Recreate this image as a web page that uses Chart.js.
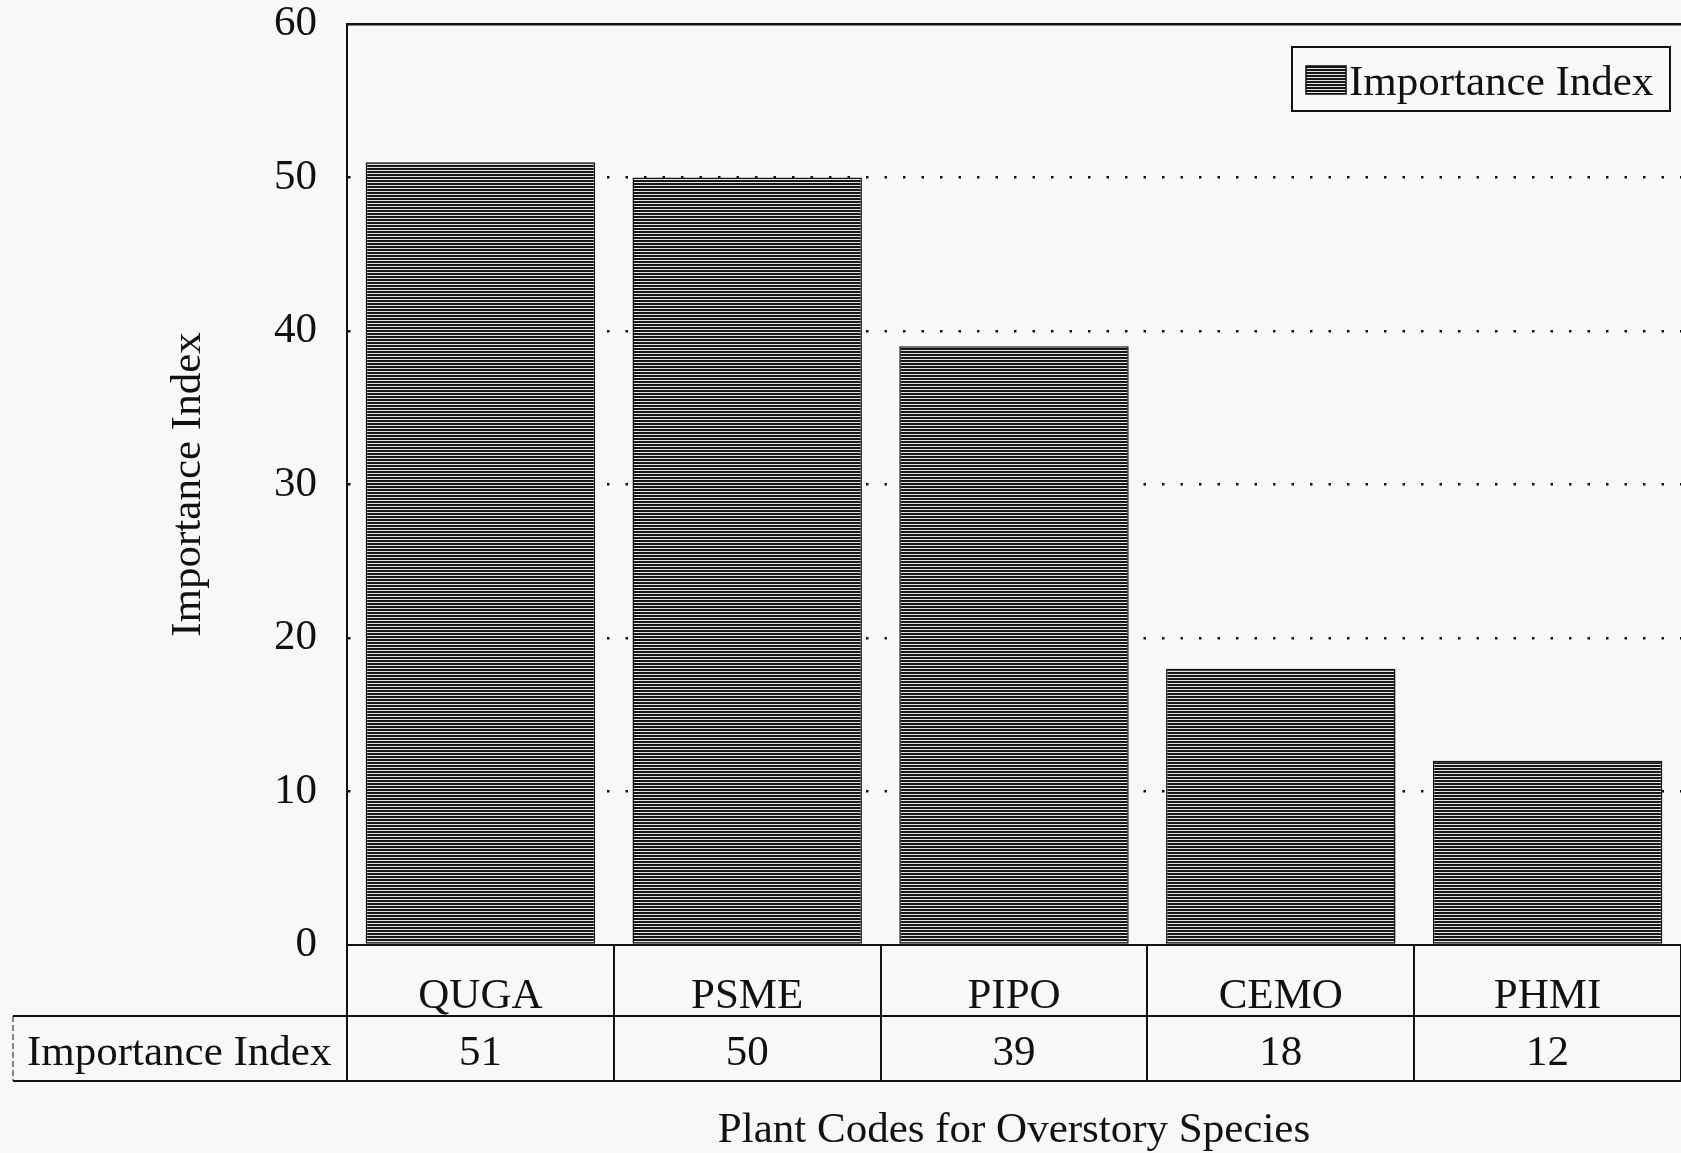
<!DOCTYPE html>
<html>
<head>
<meta charset="utf-8">
<script src="https://cdn.jsdelivr.net/npm/chart.js@4.4.1/dist/chart.umd.min.js"></script>
<style>
  html, body { margin: 0; padding: 0; background: #f8f8f8; }
</style>
</head>
<body>
<canvas id="importanceChart" width="1681" height="1153"></canvas>
<script>
// data
var speciesCodes = ["QUGA", "PSME", "PIPO", "CEMO", "PHMI"];
var importanceValues = [51, 50, 39, 18, 12];
var yTickValues = [0, 10, 20, 30, 40, 50, 60];
var seriesName = "Importance Index";
var yTitle = "Importance Index";
var xTitle = "Plant Codes for Overstory Species";

var serif = "'Liberation Serif', 'Times New Roman', serif";
var ink = "#111";
var fontSize = 43;

// horizontal line hatch used for the bars
var stripePattern = function () {
	var c = document.createElement("canvas");
	c.width = 4;
	c.height = 3;
	var g = c.getContext("2d");
	g.fillStyle = "#e4e4e4";
	g.fillRect(0, 0, 4, 3);
	g.fillStyle = "#161616";
	g.fillRect(0, 0, 4, 2);
	return g.createPattern(c, "repeat");
};
var hatch = stripePattern();

// data table under the axis + x title + boxed legend
var tablePlugin = {
	id: "tablePlugin",
	afterDraw: function (chart) {
		var ctx = chart.ctx;
		var area = chart.chartArea;
		var xs = chart.scales.x;
		var base = area.bottom;
		var row1 = base + 71;
		var row2 = base + 136;
		var leftEdge = 13;
		var step = (area.right - area.left) / speciesCodes.length;

		ctx.save();
		ctx.strokeStyle = ink;
		ctx.lineWidth = 2;
		ctx.beginPath();
		for (var i = 0; i <= speciesCodes.length; i++) {
			var vx = Math.round(area.left + i * step);
			ctx.moveTo(vx, base);
			ctx.lineTo(vx, row2);
		}
		ctx.moveTo(leftEdge, row1);
		ctx.lineTo(area.right, row1);
		ctx.moveTo(leftEdge, row2);
		ctx.lineTo(area.right, row2);
		ctx.stroke();

		ctx.lineWidth = 1;
		ctx.setLineDash([6, 3]);
		ctx.beginPath();
		ctx.moveTo(leftEdge, row1);
		ctx.lineTo(leftEdge, row2);
		ctx.stroke();
		ctx.setLineDash([]);

		ctx.fillStyle = ink;
		ctx.font = fontSize + "px " + serif;
		ctx.textBaseline = "middle";
		ctx.textAlign = "center";
		for (var j = 0; j < speciesCodes.length; j++) {
			var cx = xs.getPixelForValue(j);
			ctx.fillText(speciesCodes[j], cx, base + 52);
			ctx.fillText(String(importanceValues[j]), cx, row1 + 38);
		}
		ctx.textAlign = "left";
		ctx.fillText(seriesName, 27, row1 + 38);

		ctx.textAlign = "center";
		ctx.fillText(xTitle, (area.left + area.right) / 2, 1131);

		// legend
		ctx.lineWidth = 2;
		ctx.strokeRect(1292, 47, 378, 64);
		ctx.fillStyle = hatch;
		ctx.fillRect(1306, 66, 40, 28);
		ctx.lineWidth = 1.5;
		ctx.strokeRect(1306, 66, 40, 28);
		ctx.fillStyle = ink;
		ctx.textAlign = "left";
		ctx.fillText(seriesName, 1349, 84);
		ctx.restore();
	}
};

var bgPlugin = {
	id: "bgPlugin",
	beforeDraw: function (chart) {
		var ctx = chart.ctx;
		ctx.save();
		ctx.fillStyle = "#f8f8f8";
		ctx.fillRect(0, 0, chart.width, chart.height);
		ctx.restore();
	}
};

var chartCanvas = document.getElementById("importanceChart").getContext("2d");
new Chart(chartCanvas, {
	type: "bar",
	data: {
		labels: speciesCodes,
		datasets: [{
			label: seriesName,
			data: importanceValues,
			backgroundColor: hatch,
			borderColor: ink,
			borderWidth: 1.5,
			borderSkipped: false,
			barPercentage: 0.86,
			categoryPercentage: 1
		}]
	},
	options: {
		responsive: false,
		animation: false,
		devicePixelRatio: 1,
		layout: { padding: { top: 24, right: 0, bottom: 208, left: 0 } },
		plugins: {
			legend: { display: false },
			tooltip: { enabled: false }
		},
		scales: {
			x: {
				ticks: { display: false },
				grid: { display: false, drawTicks: false },
				border: { display: true, color: ink, width: 2 },
				afterFit: function (scale) { scale.height = 0; }
			},
			y: {
				min: 0,
				max: 60,
				afterBuildTicks: function (scale) {
					scale.ticks = yTickValues.map(function (v) { return { value: v }; });
				},
				ticks: {
					color: ink,
					padding: 30,
					font: { family: serif, size: fontSize }
				},
				grid: {
					drawTicks: false,
					lineWidth: 2.5,
					color: function (c) { return c.tick && c.tick.value === 0 ? "rgba(0,0,0,0)" : ink; }
				},
				border: {
					display: true,
					color: ink,
					width: 2,
					dash: function (c) { return c.tick && c.tick.value === 60 ? [] : [2.5, 16]; }
				},
				title: {
					display: true,
					text: yTitle,
					color: ink,
					font: { family: serif, size: fontSize },
					padding: { top: 163, bottom: 0 }
				},
				afterFit: function (scale) {
					scale.width = 347;
					scale.paddingTop = 0;
					scale.paddingBottom = 0;
				}
			}
		}
	},
	plugins: [bgPlugin, tablePlugin]
});
</script>
</body>
</html>
